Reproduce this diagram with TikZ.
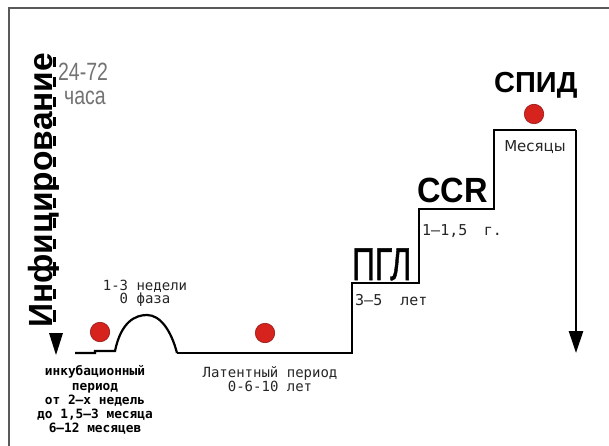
\documentclass[tikz,border=0pt]{standalone}
\usepackage{fontspec}
\setmainfont{Liberation Sans}
\newfontfamily\monofont{DejaVu Sans Mono}
\newfontfamily\dvsfont{DejaVu Sans}
\newfontfamily\pglfont[FakeBold=1.2]{Liberation Sans}
\usetikzlibrary{arrows.meta}
\definecolor{dotred}{RGB}{214,35,30}
\newcommand\ulch[1]{\setbox0\hbox{#1}\rlap{\kern0.25\wd0\vrule height -1.2pt depth 3.8pt width 0.5\wd0}\box0}
\tikzset{
  frameline/.style={draw=black!65, line width=1.6pt},
  stair/.style={draw=black, line width=2.6pt, line join=miter},
  hump/.style={draw=black, line width=2.2pt},
  dot/.style={circle, fill=dotred, draw=dotred!70!black, line width=0.6pt, minimum size=19.5pt, inner sep=0pt},
  monolabel/.style={inner sep=0pt, font=\monofont\fontsize{14}{13.5}\selectfont, text=black!85, align=center},
  monobig/.style={inner sep=0pt, font=\monofont\fontsize{15}{15}\selectfont, text=black!85},
  incub/.style={inner sep=0pt, font=\monofont\bfseries\fontsize{12.8}{14.1}\selectfont, align=center},
  greylabel/.style={inner sep=0pt, font=\fontsize{25}{25}\selectfont, text=black!55, xscale=0.78},
  stage/.style={inner sep=0pt, font=\bfseries\fontsize{35}{35}\selectfont},
}
\begin{document}
\begin{tikzpicture}[x=1pt,y=-1pt]
\useasboundingbox (0,0) rectangle (609,446);
\fill[white] (0,0) rectangle (609,446);
% frame
\coordinate (fbl) at (9,447);
\coordinate (ftl) at (9,8);
\coordinate (ftr) at (610,8);
\draw[frameline] (fbl) -- (ftl) -- (ftr);

% vertical title
\node[anchor=base west, rotate=90, inner sep=0pt, font=\bfseries\fontsize{33.5}{33.5}\selectfont] (inf) at (52,328)
  {\ulch{И}\ulch{н}\ulch{ф}\ulch{и}\ulch{ц}\ulch{и}\ulch{р}\ulch{о}\ulch{в}\ulch{а}\ulch{н}\ulch{и}\ulch{е}};
\node[greylabel, anchor=base west] (t2472) at (58,81) {24-72};
\node[greylabel, anchor=base west] (tchasa) at (64,105) {часа};

% left triangle
\coordinate (tl) at (49,333);
\coordinate (tr) at (63,333);
\coordinate (tb) at (56,355);
\fill[black] (tl) -- (tr) -- (tb) -- cycle;

% baseline and hump
\coordinate (b0) at (75,353);
\coordinate (b1) at (95,353);
\coordinate (b2) at (95,351);
\coordinate (h0) at (115,351);
\coordinate (hp) at (147,315);
\coordinate (h1) at (177,353);
\coordinate (s0) at (352,353);
\coordinate (s1) at (352,283);
\coordinate (s2) at (419,283);
\coordinate (s3) at (419,209);
\coordinate (s4) at (494,209);
\coordinate (s5) at (494,130);
\coordinate (s6) at (576,130);
\coordinate (s7) at (576,353);
\draw[hump] (b0) -- (b1) -- (b2) -- (h0)
   .. controls (121,322) and (135,315) .. (hp)
   .. controls (160,315) and (171,330) .. (h1);
\draw[stair] (h1) -- (s0) -- (s1) -- (s2) -- (s3) -- (s4) -- (s5) -- (s6);
\draw[stair, -{Triangle[width=14pt,length=22pt]}] (s6) -- (s7);

% dots
\node[dot] (d1) at (100,332) {};
\node[dot] (d2) at (265,333) {};
\node[dot] (d3) at (534,114) {};

% labels
\node[monolabel] (zero) at (145,293.5) {1-3 недели\\0 фаза};
\node[incub] (inc) at (95,400) {инкубационный\\период\\от 2–х недель\\до 1,5–3 месяца\\6–12 месяцев};
\node[monolabel] (lat) at (270,379) {Латентный период\\0-6-10 лет};

\node[inner sep=0pt, anchor=base west, xscale=0.69, font=\pglfont\fontsize{46}{46}\selectfont] (pgl) at (352,280) {ПГЛ};
\node[monobig, anchor=base west] (y35) at (355,305) {3–5\hspace{1.2em}лет};
\node[stage, anchor=base west, xscale=0.93] (ccr) at (417,202) {CCR};
\node[monobig, anchor=base west] (y115) at (422,235) {1–1,5\hspace{1.1em}г.};
\node[stage, anchor=base west, font=\bfseries\fontsize{29}{29}\selectfont] (spid) at (494,93) {СПИД};
\node[inner sep=0pt, anchor=base, font=\dvsfont\fontsize{15}{15}\selectfont, text=black!85] (mes) at (535,152) {Месяцы};
\end{tikzpicture}
\end{document}
